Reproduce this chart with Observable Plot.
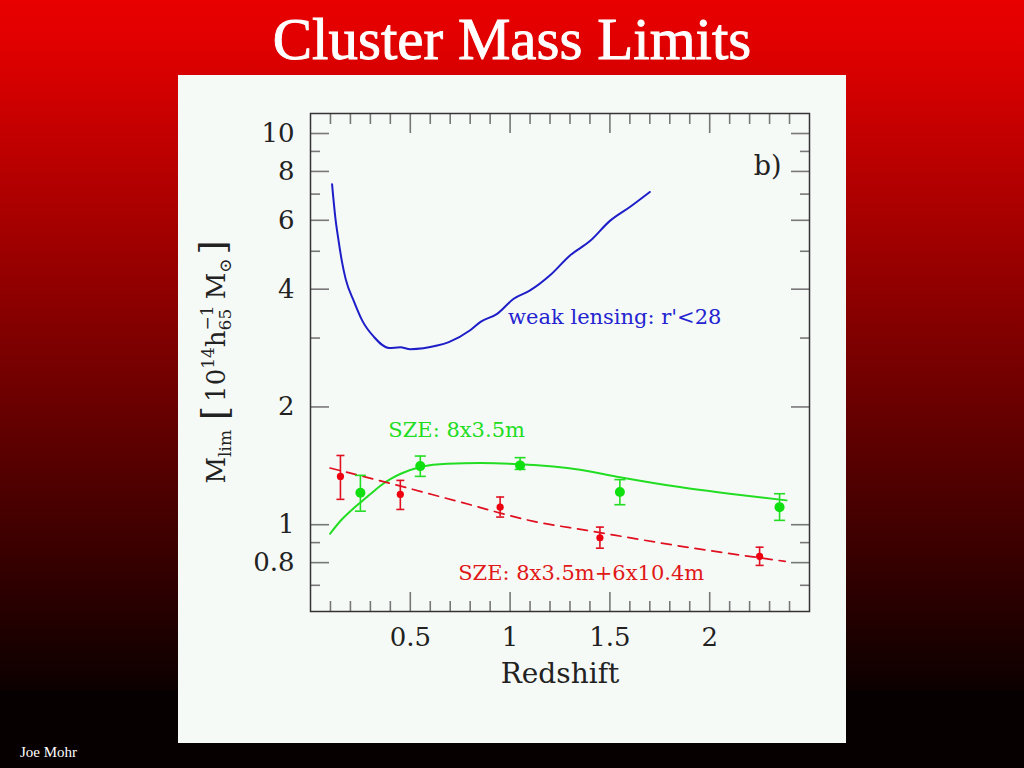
<!DOCTYPE html>
<html><head><meta charset="utf-8">
<script src="https://cdn.jsdelivr.net/npm/d3@7"></script>
<script src="https://cdn.jsdelivr.net/npm/@observablehq/plot@0.6"></script>
<style>
html,body{margin:0;padding:0;width:1024px;height:768px;overflow:hidden;}
body{background:linear-gradient(to bottom,#e80000 0px,#e20000 40px,#0c0000 690px,#070000 690px,#070000 768px);position:relative;}
#title{position:absolute;left:0;width:1024px;top:9px;text-align:center;color:#fff;font:normal 59px/60px "Liberation Serif",serif;-webkit-text-stroke:0.9px #fff;}
#panel{position:absolute;left:178px;top:75px;width:668px;height:668px;background:#f6faf7;}
#credit{position:absolute;left:20px;top:745px;color:#fff;font:15px/15px "Liberation Serif",serif;}
</style></head><body>
<div id="title">Cluster Mass Limits</div>
<div id="panel"></div>
<div id="credit">Joe Mohr</div>
<script>
// weak lensing limit curve
const wlZ = [0.108,0.125,0.14,0.158,0.176,0.218,0.26,0.318,0.393,0.45,0.5,0.635,0.693,0.8,0.852,0.935,1.018,1.1,1.2,1.3,1.4,1.5,1.6,1.7];
const wlM = [7.42,6.06,5.35,4.69,4.25,3.72,3.32,3.02,2.83,2.84,2.81,2.87,2.93,3.14,3.3,3.46,3.78,3.97,4.34,4.88,5.31,5.98,6.49,7.09];
// SZE 8x3.5m curve (green)
const szeZ = [0.098,0.152,0.202,0.252,0.302,0.352,0.402,0.452,0.552,0.685,0.852,1.05,1.35,1.55,1.85,2.1,2.385];
const szeM = [0.948,1.025,1.085,1.142,1.2,1.26,1.31,1.35,1.404,1.432,1.437,1.427,1.382,1.323,1.248,1.2,1.154];
// SZE 8x3.5m+6x10.4m curve (red dashed)
const sze2Z = [0.098,0.385,0.75,1.118,1.385,1.85,2.378];
const sze2M = [1.396,1.281,1.143,1.02,0.967,0.882,0.806];
// green points with error bars
const gZ = [0.25,0.55,1.05,1.55,2.35];
const gM = [1.207,1.412,1.418,1.212,1.109];
const gLo = [1.083,1.329,1.385,1.125,1.026];
const gHi = [1.337,1.498,1.484,1.304,1.2];
// red points with error bars
const rZ = [0.15,0.45,0.95,1.45,2.25];
const rM = [1.329,1.195,1.109,0.926,0.83];
const rLo = [1.161,1.094,1.046,0.871,0.787];
const rHi = [1.503,1.298,1.177,0.986,0.876];
// ticks
const yMajor = [10,8,6,4,2,1,0.8];
const yMinor = [9,7,5,3,0.9,0.7];
const xMajor = [0.5,1,1.5,2];
const xMinor = [0.1,0.2,0.3,0.4,0.6,0.7,0.8,0.9,1.1,1.2,1.3,1.4,1.6,1.7,1.8,1.9,2.1,2.2,2.3,2.4];
// annotations
const annoText = ["weak lensing: r'<28","SZE: 8x3.5m","SZE: 8x3.5m+6x10.4m"];
const annoZ = [0.99,0.39,0.74];
const annoM = [3.4,1.74,0.75];
const annoColor = ["#2424d0","#22dd22","#e01818"];

const BLUE="#1e1ec8", GREEN="#22dd22", RED="#e01020";
const wl = wlZ.map((z,i)=>({z, m: wlM[i]}));
const sze = szeZ.map((z,i)=>({z, m: szeM[i]}));
const sze2 = sze2Z.map((z,i)=>({z, m: sze2M[i]}));
const gPts = gZ.map((z,i)=>({z, m:gM[i], lo:gLo[i], hi:gHi[i]}));
const rPts = rZ.map((z,i)=>({z, m:rM[i], lo:rLo[i], hi:rHi[i]}));
const anno = annoText.map((t,i)=>({t, z:annoZ[i], m:annoM[i], c:annoColor[i]}));

const cap = {draw(ctx, size){ const r = Math.sqrt(size/Math.PI); ctx.moveTo(-r,0); ctx.lineTo(r,0); }};
const tickStyle = {fill:"none", stroke:"#777", strokeWidth:1.6, label:null};
const fmt = d => String(d);

const plot = Plot.plot({
  width: 668, height: 668,
  marginLeft: 132, marginRight: 37, marginTop: 38, marginBottom: 132,
  style: {background:"transparent", fontFamily:"'DejaVu Serif', serif", color:"#222"},
  x: {type:"linear", domain:[0,2.5], axis:null},
  y: {type:"log", domain:[0.6,11.25], axis:null},
  marks: [
    Plot.axisY(yMinor, {anchor:"left", tickSize:-10, ...tickStyle}),
    Plot.axisY(yMajor, {anchor:"left", tickSize:-19, ...tickStyle}),
    Plot.axisY(yMinor, {anchor:"right", tickSize:-10, ...tickStyle}),
    Plot.axisY(yMajor, {anchor:"right", tickSize:-19, ...tickStyle}),
    Plot.axisX(xMinor, {anchor:"bottom", tickSize:-10, ...tickStyle}),
    Plot.axisX(xMajor, {anchor:"bottom", tickSize:-19, ...tickStyle}),
    Plot.axisX(xMinor, {anchor:"top", tickSize:-10, ...tickStyle}),
    Plot.axisX(xMajor, {anchor:"top", tickSize:-19, ...tickStyle}),
    Plot.axisY(yMajor, {anchor:"left", tickSize:0, tickPadding:16, fontSize:26, fill:"#222", tickFormat:fmt, label:null}),
    Plot.axisX(xMajor, {anchor:"bottom", tickSize:0, tickPadding:16, fontSize:26, fill:"#222", tickFormat:fmt, label:null}),
    Plot.frame({stroke:"#333", strokeWidth:1.5}),
    Plot.line(wl, {x:"z", y:"m", stroke:BLUE, strokeWidth:2, curve:"monotone-x"}),
    Plot.line(sze, {x:"z", y:"m", stroke:GREEN, strokeWidth:2, curve:"monotone-x"}),
    Plot.line(sze2, {x:"z", y:"m", stroke:RED, strokeWidth:1.7, strokeDasharray:"10,7", curve:"monotone-x"}),
    Plot.ruleX(gPts, {x:"z", y1:"lo", y2:"hi", stroke:GREEN, strokeWidth:1.6}),
    Plot.dot(gPts, {x:"z", y:"lo", symbol:cap, r:5.5, stroke:GREEN, strokeWidth:1.6, fill:"none"}),
    Plot.dot(gPts, {x:"z", y:"hi", symbol:cap, r:5.5, stroke:GREEN, strokeWidth:1.6, fill:"none"}),
    Plot.dot(gPts, {x:"z", y:"m", r:5, fill:"#10e010", stroke:"none"}),
    Plot.ruleX(rPts, {x:"z", y1:"lo", y2:"hi", stroke:RED, strokeWidth:1.6}),
    Plot.dot(rPts, {x:"z", y:"lo", symbol:cap, r:4, stroke:RED, strokeWidth:1.6, fill:"none"}),
    Plot.dot(rPts, {x:"z", y:"hi", symbol:cap, r:4, stroke:RED, strokeWidth:1.6, fill:"none"}),
    Plot.dot(rPts, {x:"z", y:"m", r:3.6, fill:"#ee0010", stroke:"none"}),
    Plot.text(anno, {x:"z", y:"m", text:"t", fill:"c", textAnchor:"start", fontSize:21}),
    Plot.text(["b)"], {frameAnchor:"top-right", dx:-28, dy:42, fontSize:27, textAnchor:"end", fill:"#222"}),
    Plot.text(["Redshift"], {frameAnchor:"bottom", dy:71, lineAnchor:"bottom", fontSize:28, fill:"#222"})
  ]
});
document.getElementById("panel").appendChild(plot);

// rotated y-axis label with sub/superscripts
const lab = d3.select(plot).append("text")
  .attr("transform","translate(47,287) rotate(-90)")
  .attr("text-anchor","middle")
  .attr("fill","#222")
  .attr("font-family","'DejaVu Serif', serif")
  .attr("font-size",26);
lab.append("tspan").text("M");
lab.append("tspan").attr("font-size",17).attr("dy",6).text("lim");
lab.append("tspan").attr("font-size",36).attr("dy",-4).attr("dx",10).text("[");
lab.append("tspan").attr("dy",-2).attr("dx",4).text("10");
lab.append("tspan").attr("font-size",17).attr("dy",-11).text("14");
lab.append("tspan").attr("dy",11).text("h");
lab.append("tspan").attr("font-size",17).attr("dy",6).text("65");
lab.append("tspan").attr("font-size",17).attr("dy",-18).attr("dx",-21.6).text("−1");
lab.append("tspan").attr("dy",12).attr("dx",6).text("M");
lab.append("tspan").attr("font-size",17).attr("dy",6).text("⊙");
lab.append("tspan").attr("font-size",36).attr("dy",-6).attr("dx",4).text("]");
</script>
</body></html>
